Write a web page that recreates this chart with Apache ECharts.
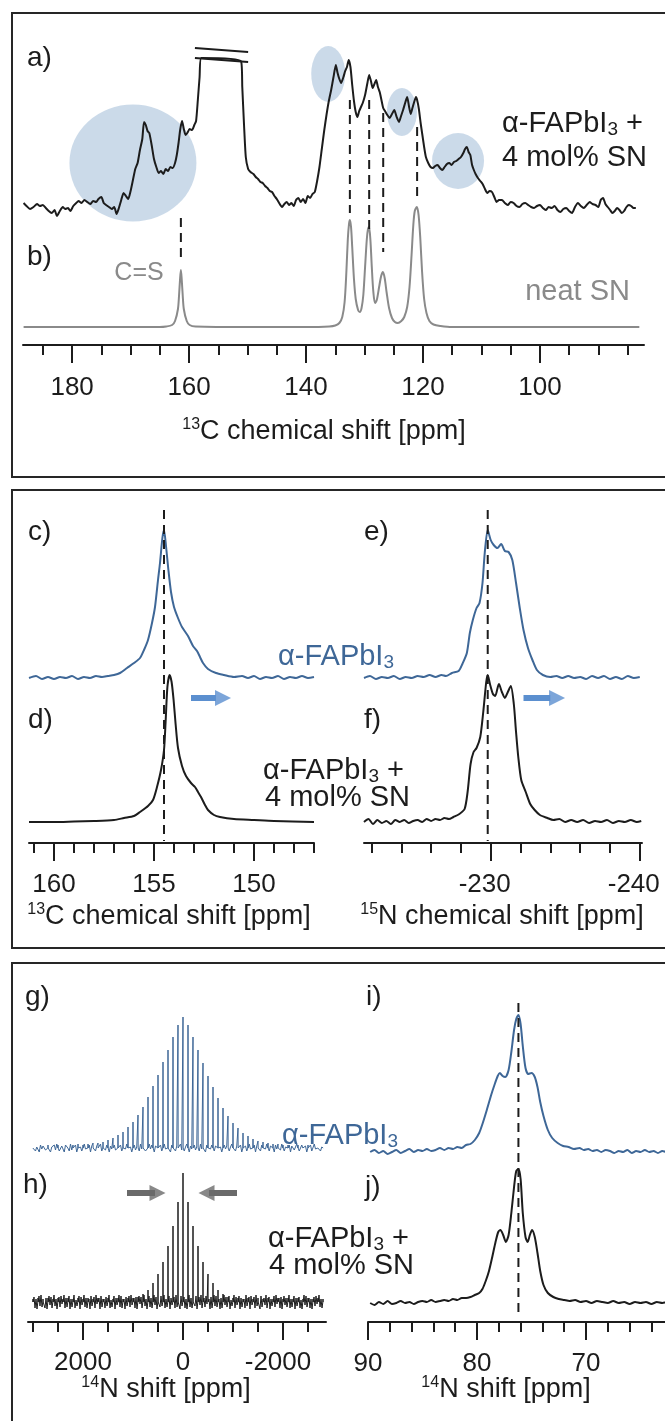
<!DOCTYPE html>
<html>
<head>
<meta charset="utf-8">
<script src="https://cdn.jsdelivr.net/npm/echarts@6.0.0/dist/echarts.min.js"></script>
<style>
  html, body { margin: 0; padding: 0; background: #fff; }
  #chart { width: 665px; height: 1421px; }
</style>
</head>
<body>
<div id="chart"></div>
<script>
// ---- tick values (ppm) ----
const c13WideMajor = [180, 160, 140, 120, 100];
const c13WideMinor = [185, 175, 170, 165, 155, 150, 145, 135, 130, 125, 115, 110, 105, 95, 90, 85];
const c13NarrowMajor = [160, 155, 150];
const c13NarrowMinor = [161, 159, 158, 157, 156, 154, 153, 152, 151, 149, 148, 147];
const n15Major = [-230, -240];
const n15Minor = [-222, -224, -226, -228, -232, -234, -236, -238];
const n14WideMajor = [2000, 0, -2000];
const n14WideMinor = [3000, 2500, 1500, 1000, 500, -500, -1000, -1500, -2500];
const n14NarrowMajor = [90, 80, 70];
const n14NarrowMinor = [88, 86, 84, 82, 78, 76, 74, 72, 68, 66, 64];

// ---- a) 13C, α-FAPbI3 + 4 mol% SN  [ppm, intensity] ----
const specA = [[188.3,2],[187.8,-1],[187.2,-4],[186.6,-2],[186.0,1],[185.5,-1],[185.0,0],[184.5,-3],[184.0,-6],[183.5,-8],[183.0,-5],[182.6,-11],[182.1,-6],[181.6,-2],[181.2,-4],[180.7,-3],[180.3,-6],[179.8,-1],[179.3,2],[178.9,4],[178.4,2],[177.9,5],[177.4,3],[176.9,1],[176.4,4],[175.9,3],[175.5,6],[175.0,8],[174.6,2],[174.2,0],[173.7,-2],[173.2,-4],[172.8,-2],[172.4,-9],[172.0,-3],[171.6,5],[171.2,12],[170.8,9],[170.4,6],[170.0,14],[169.6,25],[169.2,36],[168.8,42],[168.4,55],[168.0,66],[167.7,83],[167.4,80],[167.1,74],[166.8,72],[166.4,60],[166.0,46],[165.6,38],[165.2,32],[164.8,34],[164.4,31],[164.0,36],[163.6,34],[163.2,38],[162.8,37],[162.4,42],[162.1,50],[161.8,62],[161.5,76],[161.2,84],[160.9,76],[160.6,70],[160.3,72],[159.9,76],[159.5,75],[159.1,80],[158.8,84],[158.5,105],[158.2,128],[157.9,147],[151.1,143.5],[150.9,118],[150.6,80],[150.3,48],[149.9,36],[149.5,33],[149.0,31],[148.6,28],[148.2,26],[147.8,23],[147.4,22],[147.0,19],[146.6,17],[146.2,14],[145.8,13],[145.4,9],[145.0,6],[144.6,2],[144.1,-2],[143.7,1],[143.3,3],[142.9,0],[142.5,2],[142.1,-1],[141.7,5],[141.3,7],[140.9,3],[140.5,6],[140.1,2],[139.7,9],[139.3,7],[138.9,11],[138.5,13],[138.1,24],[137.7,38],[137.3,56],[136.9,74],[136.5,90],[136.1,104],[135.7,115],[135.3,128],[134.9,140],[134.6,132],[134.3,126],[134.0,122],[133.6,128],[133.3,134],[133.0,138],[132.7,145],[132.4,138],[132.1,120],[131.8,104],[131.5,93],[131.2,88],[130.9,94],[130.6,98],[130.3,102],[129.9,110],[129.5,122],[129.2,130],[128.9,124],[128.6,117],[128.3,121],[128.0,125],[127.7,118],[127.4,113],[127.1,105],[126.8,97],[126.5,94],[126.1,90],[125.7,87],[125.3,91],[124.9,95],[124.5,88],[124.1,83],[123.8,88],[123.4,95],[123.0,103],[122.7,108],[122.4,99],[122.1,91],[121.8,97],[121.5,103],[121.2,108],[121.0,105],[120.7,96],[120.4,82],[120.1,70],[119.8,58],[119.5,48],[119.1,42],[118.7,38],[118.3,37],[117.9,39],[117.5,40],[117.1,37],[116.7,35],[116.3,38],[115.9,41],[115.5,42],[115.1,40],[114.7,43],[114.3,44],[113.9,46],[113.5,48],[113.1,52],[112.8,56],[112.5,58],[112.2,53],[111.9,50],[111.6,40],[111.3,35],[111.0,31],[110.6,27],[110.2,24],[109.8,21],[109.4,16],[109.0,12],[108.6,14],[108.2,13],[107.8,8],[107.4,3],[107.0,5],[106.5,5],[106.0,2],[105.5,0],[105.0,3],[104.5,2],[104.0,-1],[103.5,-2],[103.0,1],[102.5,2],[102.0,0],[101.5,-2],[101.0,-3],[100.5,-1],[100.0,0],[99.5,-3],[99.0,-5],[98.5,-2],[98.0,-3],[97.5,-1],[97.0,-5],[96.5,-7],[96.0,-4],[95.5,-3],[95.0,-6],[94.5,-8],[94.0,-2],[93.5,2],[93.0,-1],[92.5,-3],[92.0,0],[91.5,3],[91.0,1],[90.5,0],[90.0,-2],[89.6,5],[89.2,7],[88.8,1],[88.4,-2],[88.0,-5],[87.6,-8],[87.2,-6],[86.8,-3],[86.4,-5],[86.0,-8],[85.6,-6],[85.2,-2],[84.8,0],[84.4,-1],[84.0,-3],[83.6,-3]];

// ---- b) 13C, neat SN ----
const specB = [[188.3,0],[175,0],[165,0],[163.9,0.5],[162.9,2],[162.4,6],[161.9,18],[161.7,33],[161.55,47],[161.4,57],[161.25,47],[161.1,33],[160.9,18],[160.4,6],[159.9,2],[158.9,0.5],[150,0],[140,0],[136,0.5],[135,1.5],[134.3,4],[133.8,10],[133.4,25],[133.1,55],[132.85,88],[132.65,103],[132.5,107],[132.3,100],[132.1,80],[131.8,48],[131.5,28],[131.1,17],[130.8,15],[130.5,19],[130.2,32],[129.9,60],[129.6,88],[129.4,98],[129.23,100],[129.0,88],[128.75,60],[128.5,36],[128.2,24],[127.9,27],[127.5,40],[127.15,51],[126.85,55],[126.55,49],[126.2,34],[125.8,19],[125.3,9],[124.8,5],[124.3,4],[123.7,6],[123.2,10],[122.7,20],[122.3,40],[121.95,72],[121.65,102],[121.4,116],[121.05,120],[120.75,112],[120.45,88],[120.15,55],[119.8,28],[119.4,14],[118.9,6],[118.2,2.5],[117,1],[115,0],[100,0],[83,0]];

// ---- c) / d) 13C of FA ----
const specC = [[161.25,0],[160.9,2],[160.6,-1],[160.3,1],[160.0,-1],[159.7,1],[159.4,0],[159.1,2],[158.8,-1],[158.5,1],[158.2,0],[157.9,2],[157.6,1],[157.3,2],[157.0,3],[156.7,5],[156.35,10],[156.0,15],[155.7,20],[155.5,28],[155.3,38],[155.1,55],[154.95,71],[154.8,98],[154.7,115],[154.58,140],[154.5,148],[154.4,132],[154.28,108],[154.15,86],[154.0,71],[153.8,60],[153.6,51],[153.3,42],[153.05,32],[152.85,27],[152.7,21],[152.55,15],[152.3,9],[151.9,5],[151.5,3],[151.0,1],[150.6,2],[150.3,0],[150.0,2],[149.7,-1],[149.4,1],[149.1,0],[148.8,2],[148.5,-1],[148.2,1],[147.9,0],[147.6,2],[147.3,0],[147.0,1]];
const specD = [[161.25,0],[160,0],[159,0.5],[158,1],[157,2],[156.5,4],[156.0,6],[155.7,10],[155.3,16],[155.05,22],[154.85,35],[154.65,52],[154.5,72],[154.42,100],[154.33,135],[154.22,147],[154.12,140],[154.02,122],[153.92,98],[153.8,74],[153.6,56],[153.4,46],[153.15,39],[152.95,35],[152.8,30],[152.65,25],[152.45,17],[152.3,12],[152.0,7],[151.7,5],[151.0,3],[150.0,2],[149,1],[147,0]];

// ---- e) / f) 15N of FA ----
const specE = [[-221.5,0],[-221.9,2],[-222.3,-1],[-222.7,1],[-223.1,0],[-223.5,2],[-223.9,-1],[-224.3,1],[-224.7,0],[-225.1,2],[-225.5,1],[-225.9,3],[-226.3,1],[-226.7,3],[-227.0,2],[-227.4,5],[-227.85,7],[-228.1,14],[-228.4,25],[-228.6,45],[-228.8,58],[-229.05,70],[-229.25,75],[-229.45,95],[-229.6,125],[-229.8,148],[-230.0,138],[-230.2,133],[-230.45,130],[-230.7,134],[-230.95,127],[-231.2,126],[-231.45,118],[-231.7,95],[-231.95,70],[-232.2,48],[-232.5,30],[-232.8,18],[-233.1,8],[-233.5,3],[-234.0,1],[-234.4,2],[-234.8,0],[-235.2,2],[-235.6,0],[-236.0,1],[-236.4,-1],[-236.8,2],[-237.2,0],[-237.6,2],[-238.0,-1],[-238.4,1],[-238.8,-1],[-239.2,2],[-239.6,0],[-240.0,1]];
const specF = [[-221.5,0],[-221.8,3],[-222.1,-2],[-222.4,2],[-222.7,-1],[-223.0,1],[-223.3,-2],[-223.6,2],[-223.9,0],[-224.2,2],[-224.5,-1],[-224.8,1],[-225.1,2],[-225.4,0],[-225.7,3],[-226.0,1],[-226.3,3],[-226.6,2],[-226.9,4],[-227.2,3],[-227.5,5],[-227.9,8],[-228.25,13],[-228.45,30],[-228.65,58],[-228.85,70],[-229.05,74],[-229.3,85],[-229.5,110],[-229.7,140],[-229.8,147],[-229.95,138],[-230.15,128],[-230.3,126],[-230.55,138],[-230.75,130],[-230.95,124],[-231.15,130],[-231.35,136],[-231.55,118],[-231.7,90],[-231.85,65],[-232.05,42],[-232.35,30],[-232.65,18],[-232.95,12],[-233.3,7],[-233.8,4],[-234.2,2],[-234.6,3],[-235.0,0],[-235.4,2],[-235.8,0],[-236.2,2],[-236.6,-1],[-237.0,1],[-237.4,0],[-237.8,2],[-238.2,-1],[-238.6,1],[-239.0,0],[-239.4,2],[-239.8,0],[-240.1,1]];

// ---- g) / h) 14N MAS sideband manifolds [ppm, height] ----
const sticksG = [[3000,2],[2900,3],[2800,2],[2700,3],[2600,2],[2500,3],[2400,3],[2300,2],[2200,3],[2100,4],[2000,3],[1900,4],[1800,5],[1700,5],[1600,6],[1500,8],[1400,10],[1300,13],[1200,16],[1100,21],[1000,26],[900,33],[800,41],[700,51],[600,62],[500,73],[400,86],[300,98],[200,111],[100,123],[0,131],[-100,123],[-200,111],[-300,98],[-400,85],[-500,72],[-600,61],[-700,50],[-800,40],[-900,32],[-1000,25],[-1100,20],[-1200,15],[-1300,12],[-1400,9],[-1500,7],[-1600,6],[-1700,5],[-1800,4],[-1900,4],[-2000,3],[-2100,3],[-2200,2],[-2300,3],[-2400,2],[-2500,3],[-2600,2],[-2700,2],[-2800,2]];
const sticksH = [[3000,3],[2900,4],[2800,3],[2700,4],[2600,3],[2500,4],[2400,3],[2300,4],[2200,3],[2100,4],[2000,3],[1900,4],[1800,3],[1700,4],[1600,3],[1500,4],[1400,3],[1300,4],[1200,3],[1100,4],[1000,4],[900,5],[800,8],[700,12],[600,19],[500,28],[400,40],[300,56],[200,76],[100,100],[0,129],[-100,100],[-200,76],[-300,56],[-400,40],[-500,28],[-600,19],[-700,12],[-800,8],[-900,5],[-1000,4],[-1100,4],[-1200,3],[-1300,4],[-1400,3],[-1500,4],[-1600,3],[-1700,4],[-1800,3],[-1900,4],[-2000,3],[-2100,4],[-2200,3],[-2300,4],[-2400,3],[-2500,4],[-2600,3],[-2700,4],[-2800,3]];
// baseline noise between the sidebands (3 values per gap for g, 4 for h)
const noiseG = [2,-3,1,-4,3,-1,4,-2,-3,2,-4,1,3,-2,4,-3,-1,2,-4,3,1,-3,4,-2,-1,3,-4,2,1,
    -3,4,-1,-2,3,-4,2,1,-3,2,-1,4,-3,1,-2,3,-4,2,-1,3,-2,-4,1,3,-3,2,-1,4,-2,1,
    -4,3,-2,1,-3,4,-1,2,-3,-2,4,-1,3,-4,2,1,-2,3,-3,4,-1,-2,2,-4,3,1,-3,2,-1,4,
    -2,-3,1,4,-4,2,-1,3,-2,1,-3,4,-1,2,-4,3,-2,-1,3,-3,2,4,-2,1,-4,3,-1,2,-3,1,
    4,-2,-3,2,-1,3,-4,1,2,-3,4,-1,-2,3,-4,2,1,-3,3,-2,-1,4,-3,2,1,-4,3,-1,2,
    -2,4,-3,1,-1,3,-4,2,-2,1,4,-3,-1,3,-2,2,-4,1,3,-3,4,-1,-2,2,-3,1,4,-2,3];
const noiseH = [5,-6,3,-7,6,-4,7,-5,2,-6,4,-7,6,-3,5,-6,7,-4,3,-7,5,-5,6,-2,7,-6,4,-5,6,
    -7,3,-5,7,-6,2,-4,6,-7,5,-3,7,-5,4,-6,3,-7,6,-4,5,-6,7,-2,4,-7,6,-5,3,-6,5,
    -4,7,-6,2,-5,6,-7,4,-3,7,-5,6,-6,3,-7,5,-4,6,-5,7,-3,4,-6,5,-7,6,-2,5,-6,
    7,-4,3,-7,6,-5,4,-6,7,-3,5,-7,2,-5,6,-4,7,-6,3,-5,6,-7,4,-3,5,-6,7,-5,2,
    -7,6,-4,5,-6,3,-7,7,-5,4,-6,2,-4,6,-7,5,-3,7,-6,4,-5,6,-2,3,-7,5,-6,7,-4,
    6,-5,3,-7,4,-6,7,-3,5,-5,6,-7,2,-4,7,-6,5,-3,6,-7,4,-5,3,-6,7,-4,5,-7,6,
    -3,5,-6,7,-4,2,-7,6,-5,4,-3,7,-6,5,-7,3,-4,6,-5,7,-2,4,-6,5,-7,6,-3,4,-5,
    7,-6,3,-5,6,-7,4,-4,5,-6,2,-7,7,-3,6,-5,4,-6,3,-7,5,-4,6,-2,7,-5,3,-6,4];

// ---- i) / j) 14N isotropic region ----
const specI = [[89.8,0],[89.4,2],[89.0,-1],[88.6,1],[88.2,-2],[87.8,0],[87.4,2],[87.0,-1],[86.6,1],[86.2,3],[85.8,0],[85.4,2],[85.0,1],[84.6,3],[84.2,1],[83.8,2],[83.4,4],[83.0,2],[82.6,4],[82.2,3],[81.8,5],[81.4,4],[81.0,7],[80.6,8],[80.2,12],[79.8,19],[79.5,28],[79.1,42],[78.7,57],[78.4,67],[78.1,76],[77.9,79],[77.65,76],[77.4,75],[77.1,82],[76.85,100],[76.6,122],[76.4,133],[76.2,137],[76.0,128],[75.8,106],[75.55,84],[75.3,78],[75.0,79],[74.7,75],[74.45,65],[74.2,50],[73.9,36],[73.5,22],[73.1,14],[72.6,9],[72.1,6],[71.6,5],[71.1,3],[70.6,4],[70.2,2],[69.8,3],[69.4,1],[69.0,2],[68.6,0],[68.2,2],[67.8,1],[67.4,-1],[67.0,1],[66.6,0],[66.2,2],[65.8,-1],[65.4,1],[65.0,0],[64.6,2],[64.2,0],[63.8,1],[63.4,-1],[63.0,1],[62.6,0],[62.0,1],[61,0]];
const specJ = [[89.8,0],[89.4,-2],[89.0,1],[88.6,-1],[88.2,2],[87.8,-1],[87.4,0],[87.0,2],[86.6,0],[86.2,1],[85.8,-1],[85.4,1],[85.0,2],[84.6,1],[84.2,3],[83.8,1],[83.4,2],[83.0,3],[82.6,2],[82.2,4],[81.8,3],[81.4,5],[81.0,5],[80.6,6],[80.2,8],[79.8,10],[79.5,14],[79.2,22],[78.9,32],[78.6,46],[78.3,61],[78.05,71],[77.85,73],[77.6,68],[77.35,61],[77.1,68],[76.85,90],[76.6,116],[76.4,132],[76.2,134],[76.0,124],[75.8,90],[75.55,66],[75.35,61],[75.15,68],[74.95,73],[74.7,66],[74.45,50],[74.2,32],[73.9,18],[73.5,10],[73.0,6],[72.5,4],[72.0,3],[71.5,2],[71.0,3],[70.5,1],[70.0,2],[69.5,0],[69.0,2],[68.5,1],[68.0,0],[67.5,2],[67.0,0],[66.5,1],[66.0,-1],[65.5,1],[65.0,0],[64.5,1],[64.0,-1],[63.5,1],[63.0,0],[62.5,1],[61,0]];

// highlighted regions in a): [ppm, height, w, h]
const spots = [[169.6, 182, 127, 117], [136.2, 271, 34, 56], [123.6, 233, 30, 48], [114.0, 184, 52, 56]];
// reference lines [ppm, from, to]
const dashA = [[161.4, 127, 87], [132.5, 245, 132], [129.2, 245, 115], [126.8, 232, 93], [121.0, 218, 145]];
// break marks over the truncated SN peak [ppm, height]
const breakUpper = [[159.0, 297], [149.9, 293]];
const breakLower = [[159.0, 287], [149.9, 283]];

const FONT = '"Liberation Sans", Arial, Helvetica, sans-serif';
const INK = '#1c1c1c';
const GREY = '#8a8a8a';
const BLUE = '#3e6797';
const ARROW_BLUE = '#5b8fcf';
const ARROW_GREY = '#6a6a6a';
const SPOT = '#bed1e3';

const chart = echarts.init(document.getElementById('chart'), null, {renderer: 'canvas'});

const grids = [
    {left: 23, top: 13, width: 621, height: 332},
    {left: 29, top: 490, width: 285, height: 353},
    {left: 364, top: 490, width: 278, height: 353},
    {left: 28, top: 963, width: 298, height: 359},
    {left: 368, top: 963, width: 327, height: 359}
];
const ranges = [[82.2, 188.4], [147, 161.25], [-240.15, -221.5], [-2860, 3100], [60, 90]];
const majors = [c13WideMajor, c13NarrowMajor, n15Major, n14WideMajor, n14NarrowMajor];
const minors = [c13WideMinor, c13NarrowMinor, n15Minor, n14WideMinor, n14NarrowMinor];
const margins = [30, 29, 29, 28, 29];
const negPads = [0, 0, 12, 10, 0];

const xAxes = [];
const yAxes = [];
grids.forEach((g, i) => {
    const tick = {fontSize: 26, fontFamily: FONT, color: INK};
    xAxes.push({
        type: 'value', gridIndex: i, position: 'bottom', inverse: true,
        min: ranges[i][0], max: ranges[i][1],
        axisLine: {show: true, onZero: false, lineStyle: {color: INK, width: 2}},
        axisTick: {show: true, customValues: majors[i], length: 18, lineStyle: {color: INK, width: 2}},
        axisLabel: Object.assign({
            customValues: majors[i], margin: margins[i], hideOverlap: false,
            formatter: v => (v < 0 ? '{neg|' + v + '}' : '{pos|' + v + '}'),
            rich: {
                pos: Object.assign({}, tick),
                neg: Object.assign({padding: [0, negPads[i], 0, 0]}, tick)
            }
        }, tick),
        splitLine: {show: false}
    });
    xAxes.push({
        type: 'value', gridIndex: i, position: 'bottom', inverse: true,
        min: ranges[i][0], max: ranges[i][1],
        axisLine: {show: false, onZero: false},
        axisTick: {show: true, customValues: minors[i], length: 10, lineStyle: {color: INK, width: 2}},
        axisLabel: {show: false},
        splitLine: {show: false}
    });
    yAxes.push({type: 'value', gridIndex: i, min: 0, max: g.height, show: false});
});

function trace(gi, pts, offset, color, width, smooth) {
    return {
        type: 'line', xAxisIndex: 2 * gi, yAxisIndex: gi, silent: true,
        data: pts.map(p => [p[0], p[1] + offset]),
        symbol: 'none', smooth: smooth, z: 4,
        lineStyle: {color: color, width: width, join: 'round'}
    };
}

// vertical sticks of a sideband manifold with the baseline noise between them
function sticks(list, noise, perGap) {
    const pts = [];
    list.forEach((s, i) => {
        pts.push([s[0] + 3, 0], [s[0], s[1]], [s[0] - 3, 0]);
        const next = list[i + 1];
        if (next) {
            const gap = next[0] - s[0];
            for (let j = 1; j <= perGap; j++) {
                pts.push([s[0] + gap * j / (perGap + 1), noise[perGap * i + j - 1] || 0]);
            }
        }
    });
    return pts;
}

function plain(gi, pts, color) {
    return {
        type: 'line', xAxisIndex: 2 * gi, yAxisIndex: gi, silent: true, symbol: 'none', z: 5,
        data: pts, lineStyle: {color: color, width: 2}
    };
}

function dashed(gi, ppm, from, to) {
    return {
        type: 'line', xAxisIndex: 2 * gi, yAxisIndex: gi, silent: true, symbol: 'none', z: 5,
        data: [[ppm, from], [ppm, to]],
        lineStyle: {color: INK, width: 2, type: [9, 6]}
    };
}

function arrow(gi, tail, neck, head, level, color, rot) {
    return [{
        type: 'line', xAxisIndex: 2 * gi, yAxisIndex: gi, silent: true, symbol: 'none', z: 6,
        data: [[tail, level], [neck, level]],
        lineStyle: {color: color, width: 6, cap: 'butt'}
    }, {
        type: 'scatter', xAxisIndex: 2 * gi, yAxisIndex: gi, silent: true, z: 6,
        data: [[head, level]], symbol: 'triangle', symbolSize: [16, 16], symbolRotate: rot,
        itemStyle: {color: color}
    }];
}

const series = [
    {
        type: 'scatter', xAxisIndex: 0, yAxisIndex: 0, silent: true, z: 1,
        data: spots.map(s => ({value: [s[0], s[1]], symbolSize: [s[2], s[3]]})),
        symbol: 'circle', itemStyle: {color: SPOT}
    },
    trace(0, specA, 140, INK, 2, 0.2),
    trace(0, specB, 18, GREY, 2, 0.3),
    plain(0, breakUpper, INK),
    plain(0, breakLower, INK),
    ...dashA.map(d => dashed(0, d[0], d[1], d[2])),

    trace(1, specC, 165, BLUE, 2, 0.25),
    trace(1, specD, 21, INK, 2, 0.25),
    dashed(1, 154.5, 333, 2),
    ...arrow(1, 153.15, 151.9, 151.55, 145, ARROW_BLUE, -90),

    trace(2, specE, 165, BLUE, 2, 0.25),
    trace(2, specF, 21, INK, 2, 0.25),
    dashed(2, -229.8, 333, 2),
    ...arrow(2, -232.2, -234.0, -234.45, 145, ARROW_BLUE, -90),

    trace(3, sticks(sticksG, noiseG, 3), 174, BLUE, 1, false),
    trace(3, sticks(sticksH, noiseH, 4), 20, INK, 1, false),
    ...arrow(3, 1120, 560, 510, 129, ARROW_GREY, -90),
    ...arrow(3, -1080, -520, -470, 129, ARROW_GREY, 90),

    trace(4, specI, 170, BLUE, 2, 0.25),
    trace(4, specJ, 19, INK, 2, 0.25),
    dashed(4, 76.2, 319, 4)
];

const RICH = {
    sup: {fontSize: 16, fontFamily: FONT, lineHeight: 14, verticalAlign: 'top'},
    sub: {fontSize: 19, fontFamily: FONT, lineHeight: 15, verticalAlign: 'bottom'}
};
function label(x, y, text, o) {
    o = o || {};
    return {
        type: 'text', x: x, y: y, z: 20, silent: true,
        style: {
            text: text, fill: o.fill || INK, fontSize: o.size || 29, fontFamily: FONT,
            align: o.align || 'left', verticalAlign: 'middle', lineHeight: 30, rich: RICH
        }
    };
}
function frame(y, h) {
    return {
        type: 'rect', silent: true, z: 0,
        shape: {x: 12, y: y, width: 662, height: h},
        style: {fill: 'none', stroke: '#262626', lineWidth: 2}
    };
}

const graphics = [
    frame(13, 464), frame(490, 458), frame(963, 470),
    label(27, 58, 'a)', {size: 28}),
    label(502, 124, 'α-FAPbI{sub|3} +'),
    label(502, 158, '4 mol% SN'),
    label(27, 257, 'b)', {size: 28}),
    label(139, 273, 'C=S', {fill: GREY, size: 25, align: 'center'}),
    label(630, 292, 'neat SN', {fill: GREY, align: 'right'}),
    label(324, 432, '{sup|13}C chemical shift [ppm]', {size: 27, align: 'center'}),

    label(28, 532, 'c)', {size: 28}), label(364, 532, 'e)', {size: 28}),
    label(28, 720, 'd)', {size: 28}), label(364, 720, 'f)', {size: 28}),
    label(278, 657, 'α-FAPbI{sub|3}', {fill: BLUE}),
    label(263, 771, 'α-FAPbI{sub|3} +'),
    label(265, 798, '4 mol% SN'),
    label(169, 917, '{sup|13}C chemical shift [ppm]', {size: 27, align: 'center'}),
    label(502, 917, '{sup|15}N chemical shift [ppm]', {size: 27, align: 'center'}),

    label(25, 997, 'g)', {size: 28}), label(366, 997, 'i)', {size: 28}),
    label(23, 1185, 'h)', {size: 28}), label(365, 1187, 'j)', {size: 28}),
    label(282, 1136, 'α-FAPbI{sub|3}', {fill: BLUE}),
    label(268, 1239, 'α-FAPbI{sub|3} +'),
    label(269, 1266, '4 mol% SN'),
    label(166, 1390, '{sup|14}N shift [ppm]', {size: 27, align: 'center'}),
    label(506, 1390, '{sup|14}N shift [ppm]', {size: 27, align: 'center'})
];

chart.setOption({
    backgroundColor: '#ffffff',
    animation: false,
    grid: grids.map(g => Object.assign({show: false, containLabel: false, outerBoundsMode: 'none'}, g)),
    xAxis: xAxes,
    yAxis: yAxes,
    series: series,
    graphic: graphics
});
</script>
</body>
</html>
